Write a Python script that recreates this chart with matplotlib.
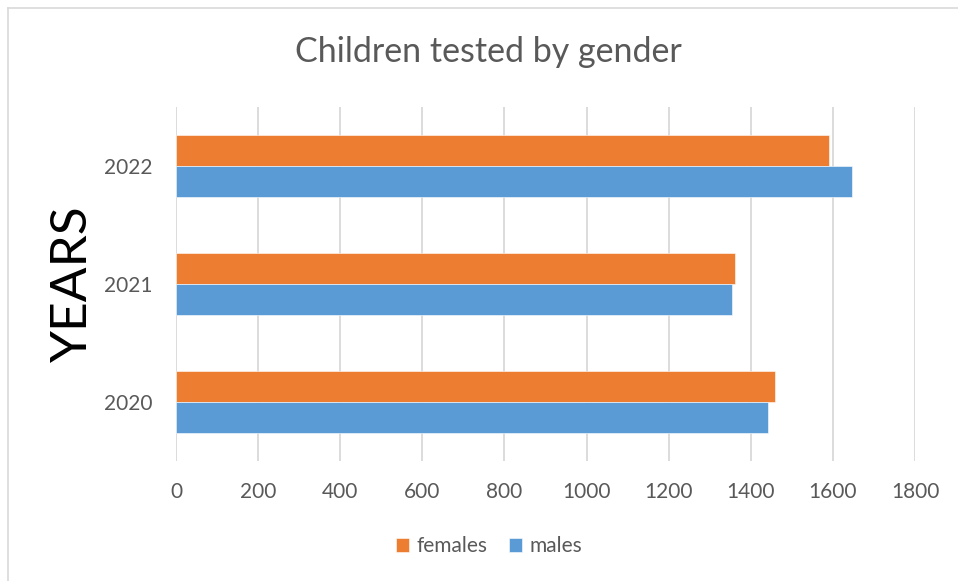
from matplotlib import pyplot as plt
import numpy as np

years = ["2020", "2021", "2022"]
females = [1458, 1362, 1590]
males = [1442, 1354, 1647]
x_ticks = [0, 200, 400, 600, 800, 1000, 1200, 1400, 1600, 1800]

plt.rcParams['font.family'] = ['Lato', 'DejaVu Sans']
grey = "#595959"

fig = plt.figure(figsize=(9.58, 5.81), dpi=100)
ax = fig.add_axes([176/958, 1-461/581, (915-176)/958, (461-107)/581])

y = np.arange(len(years))
h = 0.263
ax.barh(y + h/2, females, height=h, color="#ED7D31", label="females",
        edgecolor="white", linewidth=0.4, zorder=3)
ax.barh(y - h/2, males, height=h, color="#5B9BD5", label="males",
        edgecolor="white", linewidth=0.4, zorder=3)

ax.set_xlim(0, 1800)
ax.set_ylim(-0.5, 2.5)
ax.set_xticks(x_ticks)
ax.set_yticks(y)
ax.set_yticklabels(years)
ax.grid(axis="x", color="#D9D9D9", linewidth=1.3, zorder=0)
for s in ax.spines.values():
    s.set_visible(False)
ax.tick_params(axis="both", length=0, labelsize=15, labelcolor=grey)
ax.tick_params(axis="y", pad=17)
ax.tick_params(axis="x", pad=15)

ax.set_ylabel("YEARS", fontsize=37, color="black", labelpad=6)
fig.text(488/958, 1-52/581, "Children tested by gender", ha="center", va="center",
         fontsize=24.5, color=grey)

fig.legend(loc="center", bbox_to_anchor=(489/958, 1-546/581), ncol=2, frameon=False,
           fontsize=15, labelcolor=grey, handlelength=0.65, handleheight=0.65,
           handletextpad=0.35, columnspacing=1.0)

# light frame around the chart area (left and top edges visible)
fig.add_artist(plt.Line2D([8/958, 8/958], [0, 1-8/581], color="#D9D9D9", linewidth=1.2))
fig.add_artist(plt.Line2D([8/958, 1], [1-8/581, 1-8/581], color="#D9D9D9", linewidth=1.2))

plt.savefig("out.png", dpi=100)
